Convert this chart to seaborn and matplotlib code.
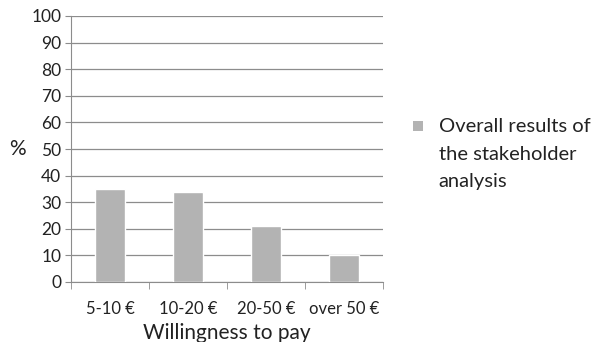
import matplotlib
matplotlib.use("Agg")
import matplotlib.pyplot as plt
import seaborn as sns
import pandas as pd
from matplotlib.ticker import FixedLocator
from matplotlib.lines import Line2D

categories = ["5-10 €", "10-20 €", "20-50 €", "over 50 €"]
values = [35, 34, 21, 10]
series_name = "Overall results of\nthe stakeholder\nanalysis"
yticks = list(range(0, 101, 10))
bar_color = "#b3b3b3"

sns.set_style("white")
plt.rcParams['font.family'] = ['Lato', 'DejaVu Sans']

df = pd.DataFrame({"cat": categories, "val": values, "series": series_name})

fig = plt.figure(figsize=(5.95, 3.42), dpi=100)
ax = fig.add_axes([71/595, 1-282/342, (383-71)/595, (282-16)/342])

sns.barplot(data=df, x="cat", y="val", hue="series", palette=[bar_color],
            width=0.39, ax=ax, saturation=1, zorder=3, legend=False)

ax.set_xlim(-0.5, 3.5)
ax.set_ylim(0, 100)
ax.set_yticks(yticks)
ax.yaxis.grid(True, color="#8c8c8c", linewidth=0.9, zorder=0)
ax.set_axisbelow(True)
for s in ["top", "right"]:
    ax.spines[s].set_visible(False)
ax.spines["left"].set_color("#8c8c8c")
ax.spines["bottom"].set_color("#8c8c8c")
ax.tick_params(axis="y", which="major", direction="out", length=4, color="#8c8c8c",
               labelsize=12.5, pad=3, left=True, labelcolor="#222222")
ax.tick_params(axis="x", which="major", length=0, labelsize=12, pad=14,
               labelcolor="#222222")
ax.xaxis.set_minor_locator(FixedLocator([-0.5, 0.5, 1.5, 2.5, 3.5]))
ax.tick_params(axis="x", which="minor", direction="out", length=5, color="#8c8c8c",
               bottom=True)
ax.set_xlabel("Willingness to pay", fontsize=15, labelpad=4, color="#222222")
ax.set_ylabel("%", fontsize=15, rotation=0, va="center", ha="center",
              color="#222222")
ax.yaxis.set_label_coords(-54/312, 0.5)

handle = Line2D([], [], marker="s", linestyle="", color=bar_color,
                markersize=6.5, markeredgewidth=0)
leg = ax.legend(handles=[handle], labels=[series_name],
                loc="upper left", bbox_to_anchor=(1.067, 0.645), frameon=False,
                fontsize=14.5, handlelength=0.6, handleheight=1.0,
                handletextpad=0.72, borderaxespad=0)
for col in leg._legend_handle_box.get_children():
    for item in col.get_children():
        item.align = "top"
for t in leg.get_texts():
    t.set_linespacing(1.72)
    t.set_color("#222222")

fig.savefig("out.png", dpi=100)
